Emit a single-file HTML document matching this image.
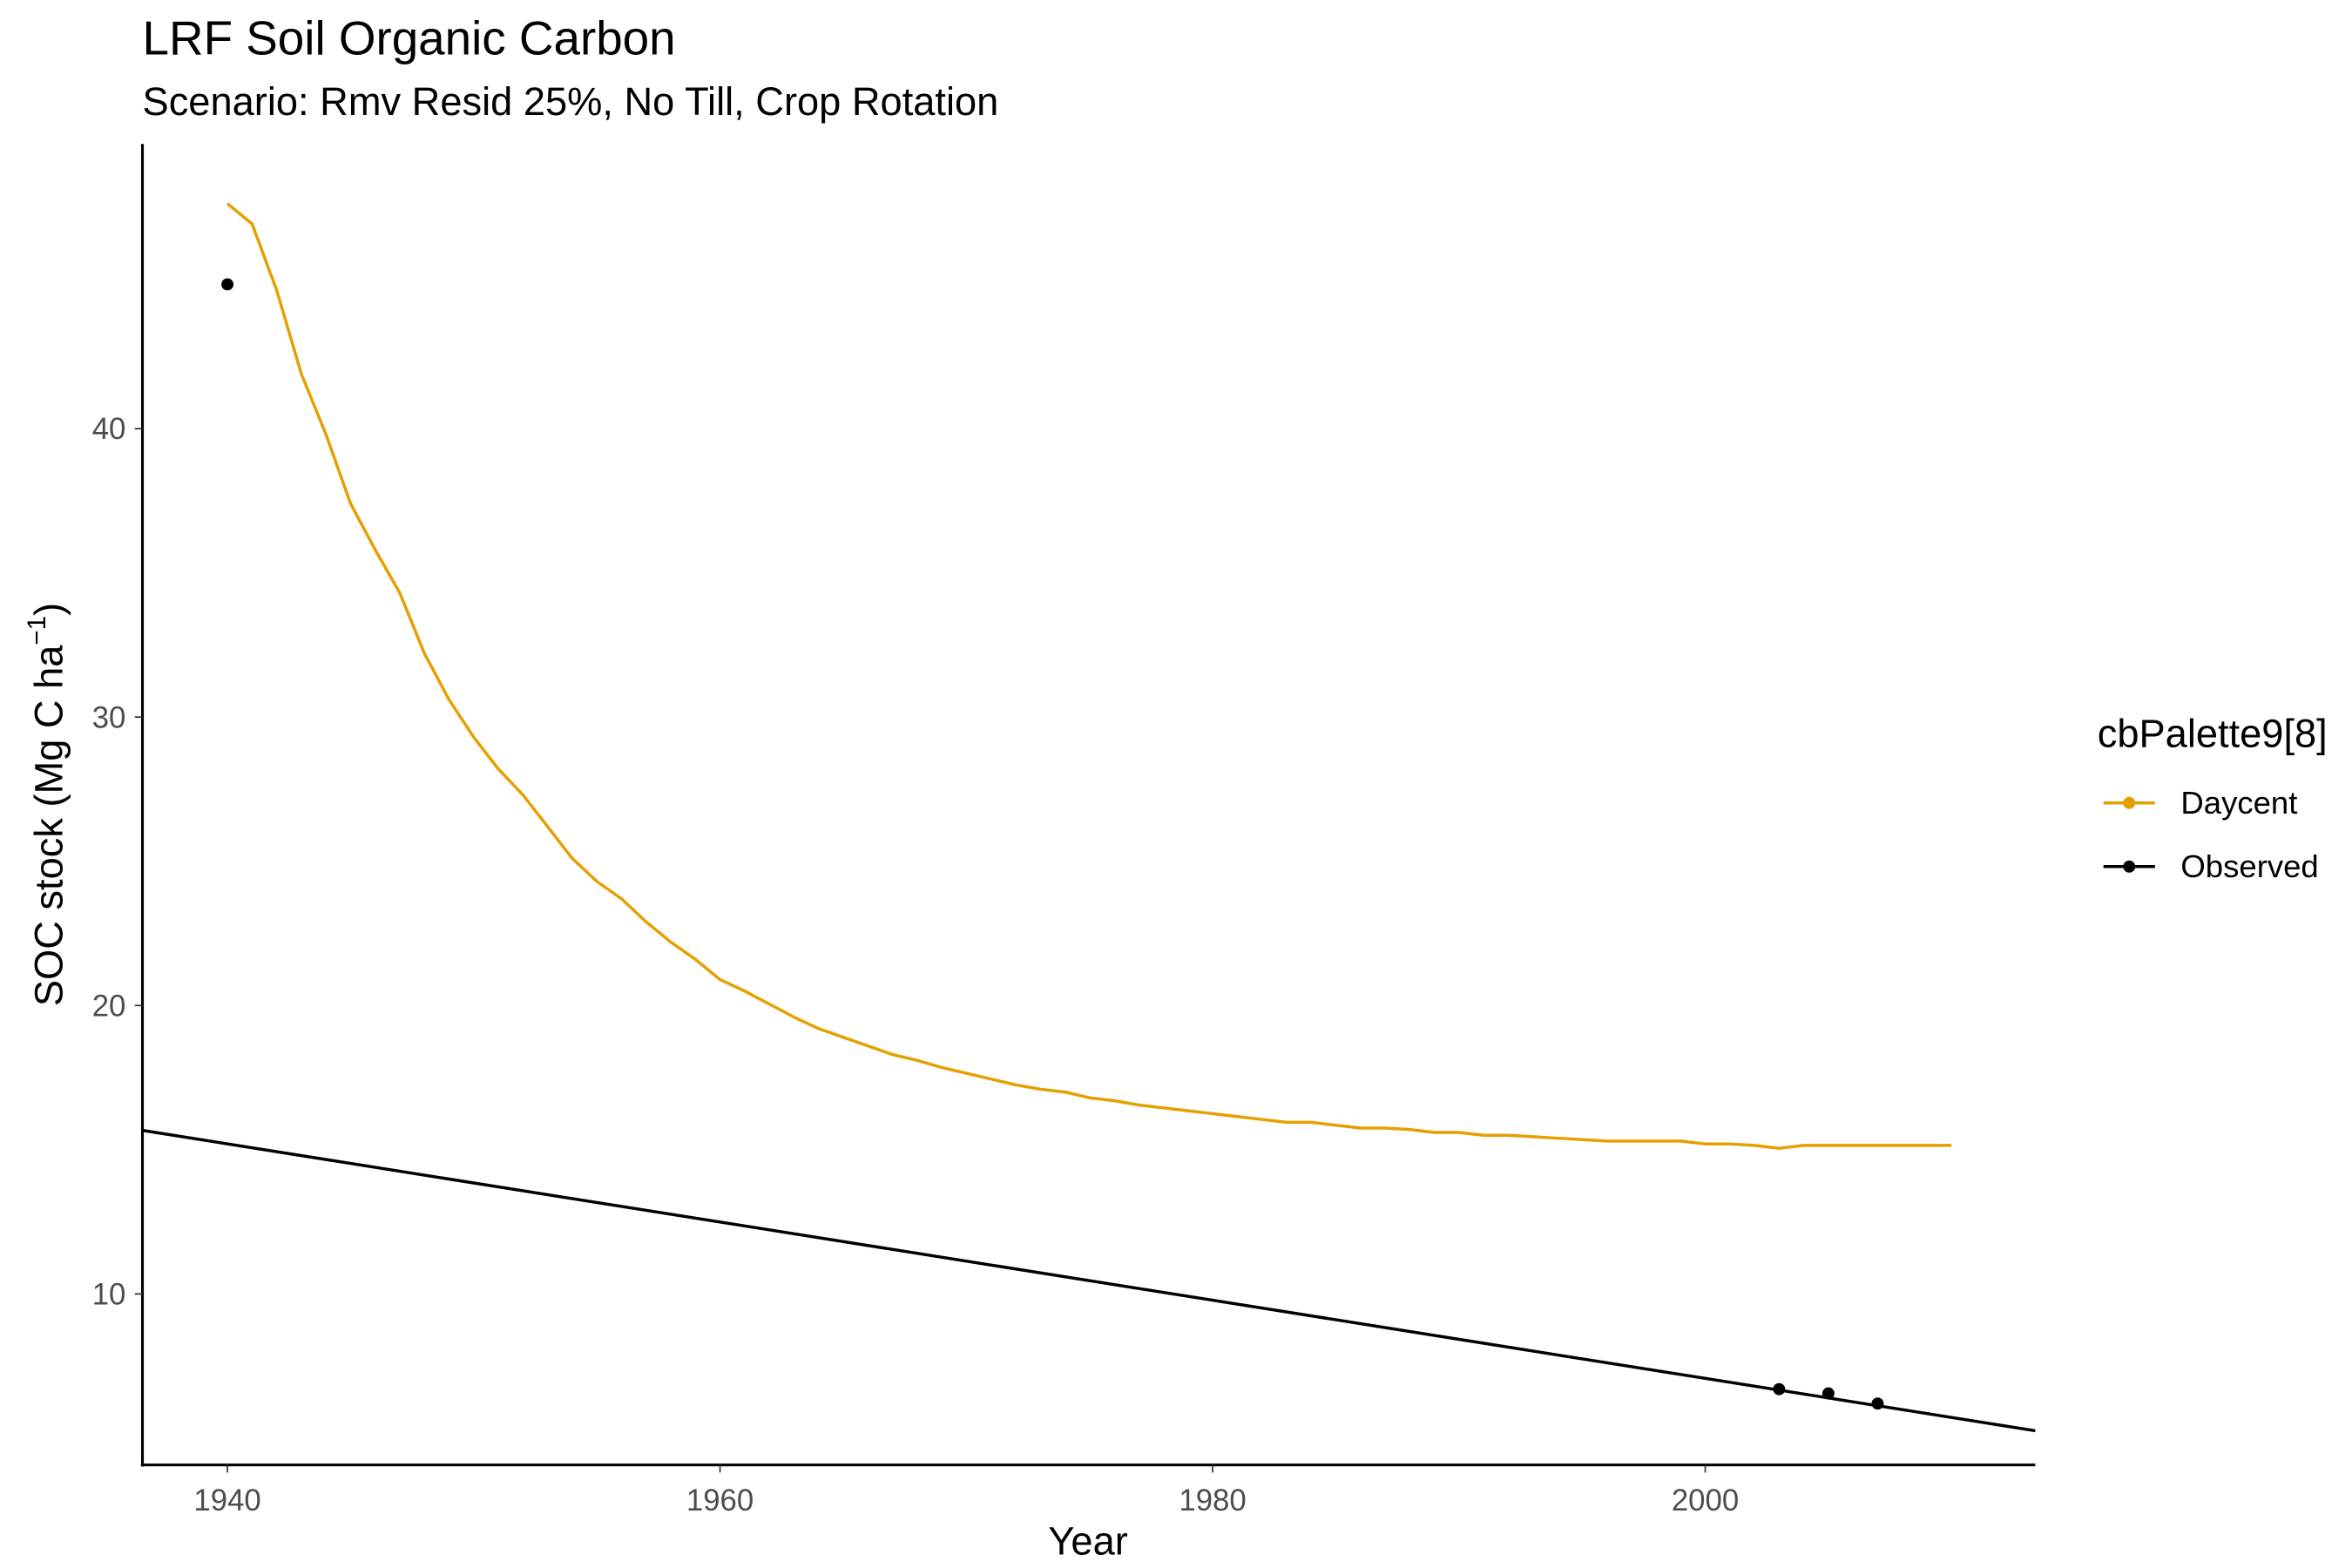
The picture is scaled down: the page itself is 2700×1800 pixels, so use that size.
<!DOCTYPE html>
<html><head><meta charset="utf-8">
<style>
html,body{margin:0;padding:0;background:#fff;}
svg{display:block;font-family:"Liberation Sans",Arial,sans-serif;}
</style></head>
<body>
<svg id="chart" width="2700" height="1800" viewBox="0 0 1552 1035" preserveAspectRatio="none" xmlns="http://www.w3.org/2000/svg">
<rect width="1552" height="1035" fill="#fff"/>
<text x="94" y="36" font-size="31.5" fill="#000">LRF Soil Organic Carbon</text>
<text x="94" y="76" font-size="26" fill="#000">Scenario: Rmv Resid 25%, No Till, Crop Rotation</text>
<g id="plot"></g>
<text x="718" y="1026" font-size="26" text-anchor="middle">Year</text>
<text transform="translate(41,531) rotate(-90)" font-size="26" text-anchor="middle">SOC stock (Mg C ha<tspan dy="-11" font-size="17">−1</tspan><tspan dy="11">)</tspan></text>
<g>
<text x="1384" y="493" font-size="26">cbPalette9[8]</text>
<g>
<line x1="1388" y1="530" x2="1422" y2="530" stroke="#E69F00" stroke-width="2"/>
<circle cx="1405" cy="530" r="4" fill="#E69F00"/>
<text x="1439" y="537" font-size="21">Daycent</text></g>
<g>
<line x1="1388" y1="572" x2="1422" y2="572" stroke="#000" stroke-width="2"/>
<circle cx="1405" cy="572" r="4" fill="#000"/>
<text x="1439" y="579" font-size="21">Observed</text></g>
</g>
</svg>
<script>
const daycentYears = [];
for (let y = 1940; y <= 2010; y++) daycentYears.push(y);
const daycentValues = [47.8,47.1,44.8,41.9,39.8,37.4,35.8,34.3,32.2,30.6,29.3,28.2,27.3,26.2,25.1,24.3,23.7,22.9,22.2,21.6,
20.9,20.5,20.05,19.6,19.2,18.9,18.6,18.3,18.1,17.85,17.65,17.45,17.25,17.1,17.0,16.8,16.7,16.55,16.45,16.35,
16.25,16.15,16.05,15.95,15.95,15.85,15.75,15.75,15.7,15.6,15.6,15.5,15.5,15.45,15.4,15.35,15.3,15.3,15.3,15.3,
15.2,15.2,15.15,15.05,15.15,15.15,15.15,15.15,15.15,15.15,15.15];
const observedYears = [1940,2003,2005,2007];
const observedValues = [45.0,6.7,6.55,6.2];
const trendIntercept = 15.67;   // value at x-axis start year 1936.55
const trendSlope = -0.1355;
const xTicks = [1940,1960,1980,2000];
const yTicks = [10,20,30,40];

const X0=94,X1=1343,Y0=967,Y1=95;
const xmin=1936.55,xmax=2013.4,ymin=4.07,ymax=49.87;
const xs=v=>X0+(v-xmin)/(xmax-xmin)*(X1-X0);
const ys=v=>Y0-(v-ymin)/(ymax-ymin)*(Y0-Y1);
const NS="http://www.w3.org/2000/svg";
const g=document.getElementById('plot');
function mk(t,a,p){const e=document.createElementNS(NS,t);for(const k in a)e.setAttribute(k,a[k]);(p||g).appendChild(e);return e;}

const tl=mk('line',{x1:xs(xmin),y1:ys(trendIntercept),x2:xs(xmax),y2:ys(trendIntercept+trendSlope*(xmax-xmin)),stroke:'#000','stroke-width':2});



const pts=daycentYears.map((y,i)=>xs(y).toFixed(2)+','+ys(daycentValues[i]).toFixed(2)).join(' ');
const dl=mk('polyline',{points:pts,fill:'none',stroke:'#E69F00','stroke-width':2,'stroke-linejoin':'round'});



observedYears.forEach((y,i)=>{
  const c=mk('circle',{cx:xs(y),cy:ys(observedValues[i]),r:4,fill:'#000'});
  
  
});

const ya=mk('line',{x1:X0,y1:Y1,x2:X0,y2:Y0+1,stroke:'#000','stroke-width':1.8});


const xa=mk('line',{x1:X0-1,y1:Y0,x2:X1,y2:Y0,stroke:'#000','stroke-width':1.8});



xTicks.forEach(t=>{
  const l=mk('line',{x1:xs(t),y1:Y0,x2:xs(t),y2:Y0+5,stroke:'#333','stroke-width':1});
  
  
  const tx=mk('text',{x:xs(t),y:Y0+30,'font-size':20,fill:'#4d4d4d','text-anchor':'middle'});
  tx.textContent=t;
  
  
});
yTicks.forEach(t=>{
  const l=mk('line',{x1:X0-5,y1:ys(t),x2:X0,y2:ys(t),stroke:'#333','stroke-width':1});
  
  
  const tx=mk('text',{x:X0-11,y:ys(t)+7,'font-size':20,fill:'#4d4d4d','text-anchor':'end'});
  tx.textContent=t;
  
  
});
</script>
</body></html>
